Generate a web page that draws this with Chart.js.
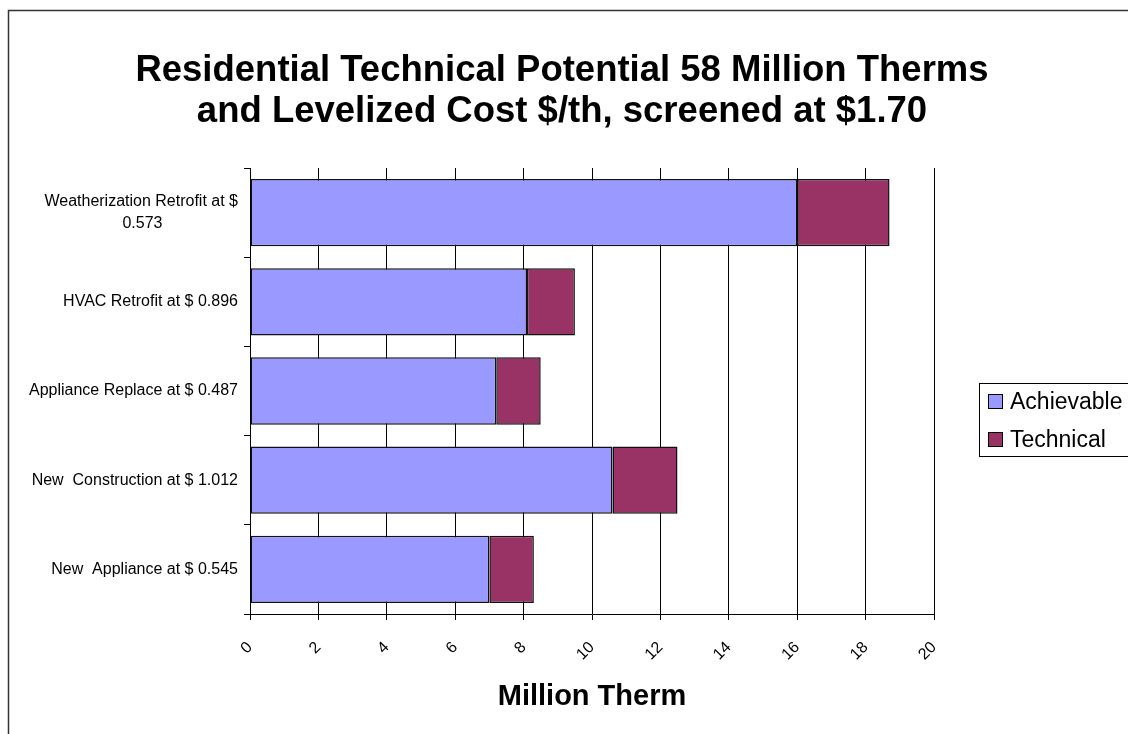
<!DOCTYPE html>
<html>
<head>
  <title>Residential Technical Potential</title>
  <script src="https://cdn.jsdelivr.net/npm/chart.js"></script>
  <style>
    html, body { margin: 0; padding: 0; background: #fff; }
  </style>
</head>
<body>
  <canvas id="potentialChart" width="1128" height="734"></canvas>
  <script>
    const titleLines = [
      'Residential Technical Potential 58 Million Therms',
      'and Levelized Cost $/th, screened at $1.70'
    ];
    // Measure names with their levelized cost ($/therm)
    const categories = [
      ['Weatherization Retrofit at $', '0.573'],
      'HVAC Retrofit at $ 0.896',
      'Appliance Replace at $ 0.487',
      'New  Construction at $ 1.012',
      'New  Appliance at $ 0.545'
    ];
    // Million therms, stacked
    const achievable = [16.0, 8.1, 7.2, 10.6, 7.0];
    const technical = [2.7, 1.4, 1.3, 1.9, 1.3];
    const seriesNames = ['Achievable', 'Technical'];
    const seriesColors = ['#9999FF', '#993366'];
    const xMin = 0, xMax = 20, xStep = 2;

    const FONT = '"Liberation Sans", Arial, sans-serif';
    Chart.defaults.font.family = FONT;
    Chart.defaults.color = '#000';

    // centre the lines of a multi-line label inside a right-aligned block
    const measureCtx = document.createElement('canvas').getContext('2d');
    function centerLines(lines, size) {
      measureCtx.font = size + 'px ' + FONT;
      const widths = lines.map(l => measureCtx.measureText(l).width);
      const maxW = Math.max(...widths);
      const sp = measureCtx.measureText(' ').width;
      return lines.map((l, i) => l + ' '.repeat(Math.round((maxW - widths[i]) / 2 / sp)));
    }

    // outer frame of the chart object (runs off the right/bottom edge)
    const frame = {
      id: 'frame',
      beforeDraw(chart) {
        const ctx = chart.ctx;
        ctx.save();
        ctx.strokeStyle = '#333';
        ctx.lineWidth = 1.5;
        ctx.strokeRect(8.5, 10.5, 1400, 1000);
        ctx.restore();
      }
    };

    // title centred on the whole canvas, not on the plot area
    const chartTitle = {
      id: 'chartTitle',
      afterDraw(chart) {
        const ctx = chart.ctx;
        ctx.save();
        ctx.fillStyle = '#000';
        ctx.font = 'bold 36.5px ' + FONT;
        ctx.textAlign = 'center';
        ctx.textBaseline = 'middle';
        titleLines.forEach((t, i) => ctx.fillText(t, 562, 71 + i * 41));
        ctx.restore();
      }
    };

    const legendBox = {
      id: 'legendBox',
      afterDraw(chart) {
        const ctx = chart.ctx;
        ctx.save();
        ctx.strokeStyle = '#000';
        ctx.lineWidth = 1;
        ctx.fillStyle = '#fff';
        ctx.fillRect(979.5, 383.5, 200, 73);
        ctx.strokeRect(979.5, 383.5, 200, 73);
        ctx.font = '23px ' + FONT;
        ctx.textBaseline = 'middle';
        chart.data.datasets.forEach((ds, i) => {
          const y = 402 + i * 38;
          ctx.fillStyle = ds.backgroundColor;
          ctx.fillRect(988.5, y - 7.5, 14, 14);
          ctx.strokeRect(988.5, y - 7.5, 14, 14);
          ctx.fillStyle = '#000';
          ctx.fillText(ds.label, 1010, y + 1);
        });
        ctx.restore();
      }
    };

    new Chart(document.getElementById('potentialChart'), {
      type: 'bar',
      data: {
        labels: categories,
        datasets: [
          {
            label: seriesNames[0],
            data: achievable,
            backgroundColor: seriesColors[0],
            borderColor: '#111',
            borderWidth: 1.5,
            borderSkipped: false,
            barPercentage: 0.755,
            categoryPercentage: 1
          },
          {
            label: seriesNames[1],
            data: technical,
            backgroundColor: seriesColors[1],
            borderColor: '#111',
            borderWidth: 1.5,
            borderSkipped: false,
            barPercentage: 0.755,
            categoryPercentage: 1
          }
        ]
      },
      options: {
        indexAxis: 'y',
        responsive: false,
        animation: false,
        layout: { padding: { left: 12, right: 194, top: 168, bottom: 0 } },
        plugins: {
          legend: { display: false },
          tooltip: { enabled: false },
          title: { display: false }
        },
        scales: {
          x: {
            stacked: true,
            min: xMin,
            max: xMax,
            ticks: {
              stepSize: xStep,
              minRotation: 45,
              maxRotation: 45,
              padding: 18,
              color: '#000',
              font: { size: 16 }
            },
            grid: { color: '#000', lineWidth: 1, tickLength: 6 },
            border: { color: '#000', width: 1 },
            title: {
              display: true,
              text: 'Million Therm',
              color: '#000',
              font: { size: 29, weight: 'bold', lineHeight: 1.2 },
              padding: { top: 0, bottom: 20 }
            },
            afterFit: s => { s.height = 120; }
          },
          y: {
            stacked: true,
            ticks: {
              autoSkip: false,
              padding: 6,
              color: '#000',
              font: { size: 16, lineHeight: 1.375 },
              callback: function (value) {
                const lbl = this.getLabelForValue(value);
                return Array.isArray(lbl) ? centerLines(lbl, 16) : lbl;
              }
            },
            grid: { drawOnChartArea: false, offset: true, color: '#000', tickLength: 6 },
            border: { color: '#000', width: 1 },
            afterFit: s => { s.width = 238; }
          }
        }
      },
      plugins: [frame, chartTitle, legendBox]
    });
  </script>
</body>
</html>
